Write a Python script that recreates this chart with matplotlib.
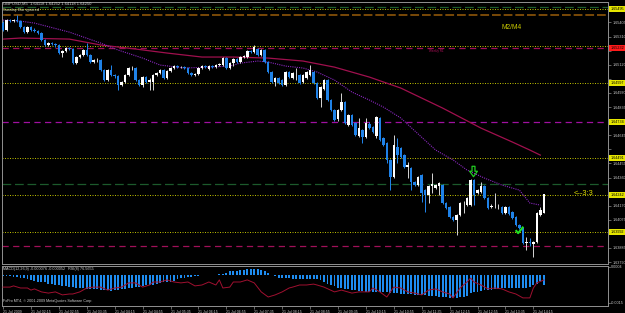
import numpy as np
import matplotlib
matplotlib.use("Agg")
import matplotlib.pyplot as plt
from matplotlib.path import Path
from matplotlib.transforms import blended_transform_factory as btf

# ---------------- data ----------------
title_text = "GBPUSD,M5  1.64118 1.64252 1.64118 1.64250"
subtitle_text = "Sunday Bar ignored"
macd_text = "MACD(12,26,9) -0.000076 -0.000052   RSI(8) 76.5655"
copyright_text = "FxPro MT4, \u00a9 2001-2009 MetaQuotes Software Corp."

opens = [
    1.65401, 1.65354, 1.65421, 1.65414, 1.65421, 1.65414, 1.65374, 1.65340, 1.65374, 1.65354,
    1.65347, 1.65334, 1.65286, 1.65253, 1.65266, 1.65259, 1.65253, 1.65199, 1.65212, 1.65232,
    1.65226, 1.65131, 1.65172, 1.65185, 1.65219, 1.65185, 1.65138, 1.65152, 1.65152, 1.65084,
    1.65017, 1.65084, 1.65051, 1.65044, 1.64983, 1.65003, 1.65051, 1.65098, 1.65098, 1.65017,
    1.64983, 1.65037, 1.65003, 1.65003, 1.65051, 1.65064, 1.65084, 1.65030, 1.65077, 1.65098,
    1.65111, 1.65104, 1.65104, 1.65098, 1.65064, 1.65051, 1.65057, 1.65098, 1.65111, 1.65091,
    1.65111, 1.65104, 1.65118, 1.65118, 1.65165, 1.65098, 1.65131, 1.65158, 1.65138, 1.65172,
    1.65172, 1.65212, 1.65206, 1.65226, 1.65185, 1.65219, 1.65138, 1.65071, 1.65003, 1.65030,
    1.65017, 1.64983, 1.65071, 1.65030, 1.65051, 1.65051, 1.65003, 1.65030, 1.65051, 1.65071,
    1.64997, 1.64895, 1.64956, 1.65017, 1.64882, 1.64815, 1.64754, 1.64815, 1.64869, 1.64714,
    1.64781, 1.64727, 1.64639, 1.64680, 1.64633, 1.64720, 1.64700, 1.64639, 1.64761, 1.64626,
    1.64592, 1.64478, 1.64363, 1.64565, 1.64558, 1.64511, 1.64430, 1.64424, 1.64329, 1.64309,
    1.64377, 1.64275, 1.64242, 1.64302, 1.64289, 1.64302, 1.64309, 1.64188, 1.64161, 1.64093,
    1.64073, 1.64107, 1.64188, 1.64174, 1.64174, 1.64343, 1.64255, 1.64262, 1.64302, 1.64221,
    1.64161, 1.64161, 1.64161, 1.64161, 1.64120, 1.64161, 1.64127, 1.64093, 1.64040, 1.64019,
    1.63918, 1.63925, 1.63911, 1.63925, 1.64107, 1.64118,
]
highs = [
    1.65414, 1.65428, 1.65428, 1.65428, 1.65455, 1.65421, 1.65381, 1.65381, 1.65381, 1.65367,
    1.65354, 1.65340, 1.65293, 1.65273, 1.65273, 1.65266, 1.65259, 1.65219, 1.65239, 1.65239,
    1.65232, 1.65179, 1.65192, 1.65226, 1.65266, 1.65192, 1.65158, 1.65165, 1.65158, 1.65091,
    1.65091, 1.65118, 1.65057, 1.65051, 1.65010, 1.65057, 1.65104, 1.65111, 1.65104, 1.65024,
    1.65044, 1.65044, 1.65030, 1.65057, 1.65071, 1.65091, 1.65091, 1.65084, 1.65104, 1.65118,
    1.65118, 1.65111, 1.65111, 1.65104, 1.65071, 1.65064, 1.65104, 1.65118, 1.65118, 1.65118,
    1.65118, 1.65125, 1.65131, 1.65172, 1.65172, 1.65138, 1.65165, 1.65165, 1.65179, 1.65185,
    1.65219, 1.65219, 1.65253, 1.65232, 1.65226, 1.65226, 1.65145, 1.65077, 1.65037, 1.65037,
    1.65024, 1.65077, 1.65077, 1.65071, 1.65098, 1.65057, 1.65057, 1.65077, 1.65118, 1.65077,
    1.65003, 1.64976, 1.65024, 1.65024, 1.64889, 1.64821, 1.64821, 1.64929, 1.64875, 1.64788,
    1.64788, 1.64734, 1.64761, 1.64687, 1.64761, 1.64734, 1.64707, 1.64774, 1.64767, 1.64633,
    1.64599, 1.64484, 1.64646, 1.64626, 1.64565, 1.64518, 1.64464, 1.64430, 1.64336, 1.64370,
    1.64383, 1.64282, 1.64309, 1.64390, 1.64316, 1.64329, 1.64316, 1.64195, 1.64168, 1.64100,
    1.64114, 1.64195, 1.64201, 1.64228, 1.64350, 1.64350, 1.64282, 1.64329, 1.64309, 1.64228,
    1.64181, 1.64255, 1.64181, 1.64168, 1.64168, 1.64168, 1.64134, 1.64100, 1.64046, 1.64026,
    1.63959, 1.63952, 1.63932, 1.64127, 1.64161, 1.64252,
]
lows = [
    1.65347, 1.65347, 1.65408, 1.65408, 1.65408, 1.65367, 1.65334, 1.65334, 1.65347, 1.65340,
    1.65327, 1.65280, 1.65246, 1.65246, 1.65253, 1.65239, 1.65192, 1.65172, 1.65206, 1.65219,
    1.65125, 1.65125, 1.65165, 1.65179, 1.65179, 1.65131, 1.65131, 1.65138, 1.65077, 1.65010,
    1.65010, 1.65044, 1.65030, 1.64949, 1.64976, 1.64997, 1.65044, 1.65084, 1.65010, 1.64976,
    1.64970, 1.64997, 1.64949, 1.64949, 1.65044, 1.65057, 1.65024, 1.65024, 1.65071, 1.65091,
    1.65098, 1.65098, 1.65091, 1.65057, 1.65044, 1.65044, 1.65051, 1.65091, 1.65098, 1.65084,
    1.65098, 1.65098, 1.65111, 1.65111, 1.65091, 1.65091, 1.65111, 1.65131, 1.65131, 1.65165,
    1.65165, 1.65199, 1.65199, 1.65179, 1.65179, 1.65131, 1.65064, 1.64997, 1.64976, 1.64990,
    1.64976, 1.64976, 1.65030, 1.65024, 1.65017, 1.64990, 1.64997, 1.65024, 1.65044, 1.64990,
    1.64889, 1.64835, 1.64949, 1.64875, 1.64808, 1.64740, 1.64740, 1.64808, 1.64720, 1.64707,
    1.64707, 1.64639, 1.64633, 1.64592, 1.64626, 1.64687, 1.64660, 1.64626, 1.64606, 1.64572,
    1.64457, 1.64275, 1.64356, 1.64457, 1.64491, 1.64424, 1.64356, 1.64275, 1.64302, 1.64302,
    1.64195, 1.64127, 1.64188, 1.64255, 1.64282, 1.64242, 1.64181, 1.64147, 1.64087, 1.64066,
    1.63972, 1.64100, 1.64120, 1.64168, 1.64168, 1.64174, 1.64248, 1.64255, 1.64215, 1.64147,
    1.64154, 1.64154, 1.64147, 1.64114, 1.64114, 1.64107, 1.64080, 1.64033, 1.64013, 1.63911,
    1.63871, 1.63898, 1.63824, 1.63918, 1.64100, 1.64118,
]
closes = [
    1.65354, 1.65421, 1.65414, 1.65421, 1.65414, 1.65374, 1.65340, 1.65374, 1.65354, 1.65347,
    1.65334, 1.65286, 1.65253, 1.65266, 1.65259, 1.65253, 1.65199, 1.65212, 1.65232, 1.65226,
    1.65131, 1.65172, 1.65185, 1.65219, 1.65185, 1.65138, 1.65152, 1.65152, 1.65084, 1.65017,
    1.65084, 1.65051, 1.65044, 1.64983, 1.65003, 1.65051, 1.65098, 1.65098, 1.65017, 1.64983,
    1.65037, 1.65003, 1.65017, 1.65051, 1.65064, 1.65084, 1.65030, 1.65077, 1.65098, 1.65111,
    1.65104, 1.65104, 1.65098, 1.65064, 1.65051, 1.65057, 1.65098, 1.65111, 1.65104, 1.65111,
    1.65104, 1.65118, 1.65125, 1.65165, 1.65098, 1.65131, 1.65158, 1.65138, 1.65172, 1.65179,
    1.65212, 1.65206, 1.65239, 1.65185, 1.65219, 1.65138, 1.65071, 1.65003, 1.65030, 1.64997,
    1.64983, 1.65071, 1.65037, 1.65064, 1.65051, 1.64997, 1.65051, 1.65071, 1.65084, 1.64997,
    1.64895, 1.64970, 1.65017, 1.64882, 1.64815, 1.64747, 1.64815, 1.64869, 1.64727, 1.64781,
    1.64714, 1.64646, 1.64693, 1.64633, 1.64727, 1.64693, 1.64666, 1.64767, 1.64612, 1.64579,
    1.64478, 1.64363, 1.64579, 1.64511, 1.64498, 1.64430, 1.64444, 1.64329, 1.64309, 1.64363,
    1.64255, 1.64242, 1.64302, 1.64316, 1.64309, 1.64323, 1.64188, 1.64154, 1.64093, 1.64073,
    1.64107, 1.64188, 1.64188, 1.64221, 1.64343, 1.64242, 1.64275, 1.64302, 1.64221, 1.64154,
    1.64168, 1.64161, 1.64161, 1.64120, 1.64161, 1.64114, 1.64087, 1.64040, 1.64019, 1.63918,
    1.63925, 1.63918, 1.63925, 1.64120, 1.64141, 1.64250,
]

# moving averages read at sample bars
ma_fast_bar = [0, 5, 9, 19, 28, 33, 40, 45, 52, 59, 65, 68, 73, 76, 81, 86, 90, 95, 100, 105,
               109, 114, 124, 129, 133, 138, 143, 148, 151, 154]
ma_fast = [1.65421, 1.65414, 1.65401, 1.65340, 1.65266, 1.65219, 1.65165, 1.65118, 1.65098, 1.65104,
           1.65111, 1.65131, 1.65145, 1.65138, 1.65111, 1.65098, 1.65071, 1.65017, 1.64936, 1.64882,
           1.64835, 1.64761, 1.64545, 1.64478, 1.64410, 1.64356, 1.64309, 1.64275, 1.64188, 1.64174]
ma_slow_bar = [0, 5, 19, 28, 38, 47, 57, 66, 76, 86, 95, 105, 114, 126, 137, 146, 151, 154]
ma_slow = [1.65293, 1.65300, 1.65293, 1.65253, 1.65226, 1.65199, 1.65172, 1.65172, 1.65165, 1.65145,
           1.65104, 1.65037, 1.64963, 1.64828, 1.64693, 1.64599, 1.64545, 1.64511]

# horizontal levels
level_prices = [1.65509, 1.65495, 1.65455, 1.65246, 1.65232, 1.64997, 1.64734,
                1.64491, 1.64316, 1.64242, 1.63992, 1.63898]
level_kinds = ["green", "yellow", "brown", "yellow", "crimson", "yellow", "magenta",
               "yellow", "green", "yellow", "yellow", "crimson"]
label_prices = [1.65495, 1.65232, 1.64997, 1.64734, 1.64491, 1.64242, 1.63992]
label_colors = ["#e6e600", "#ff1a1a", "#e6e600", "#e6e600", "#e6e600", "#e6e600", "#e6e600"]

price_ticks = [1.63790, 1.63885, 1.63980, 1.64075, 1.64170, 1.64265, 1.64360, 1.64455, 1.64550,
               1.64645, 1.64740, 1.64835, 1.64930, 1.65025, 1.65120, 1.65215, 1.65310, 1.65405]
price_tick_labels = ["1.63790", "1.63885", "", "1.64075", "1.64170", "", "1.64360", "1.64455",
                     "", "1.64645", "", "1.64835", "1.64930", "", "1.65120", "", "1.65310", "1.65405"]

time_bars = [0, 8, 16, 24, 32, 40, 48, 56, 64, 72, 80, 88, 96, 104, 112, 120, 128, 136, 144, 152]
time_labels = ["21 Jul 2009", "21 Jul 02:15", "21 Jul 02:55", "21 Jul 03:35", "21 Jul 04:15",
               "21 Jul 04:55", "21 Jul 05:35", "21 Jul 06:15", "21 Jul 06:55", "21 Jul 07:35",
               "21 Jul 08:15", "21 Jul 08:55", "21 Jul 09:35", "21 Jul 10:15", "21 Jul 10:55",
               "21 Jul 11:35", "21 Jul 12:15", "21 Jul 12:55", "21 Jul 13:35", "21 Jul 14:15"]

# MACD histogram (in units of 0.001)
macd_hist_milli = [
    -0.08, -0.08, -0.08, -0.11, -0.13, -0.16, -0.21, -0.26, -0.29, -0.32,
    -0.37, -0.40, -0.42, -0.48, -0.50, -0.53, -0.58, -0.61, -0.63, -0.66,
    -0.66, -0.69, -0.71, -0.71, -0.74, -0.77, -0.77, -0.79, -0.82, -0.82,
    -0.84, -0.87, -0.84, -0.82, -0.79, -0.77, -0.71, -0.69, -0.66, -0.66,
    -0.63, -0.58, -0.55, -0.53, -0.48, -0.45, -0.42, -0.40, -0.37, -0.32,
    -0.26, -0.21, -0.16, -0.13, -0.11, -0.08, -0.08, -0.05, -0.05, -0.03,
    -0.03, -0.01, 0.01, 0.03, 0.08, 0.16, 0.18, 0.21, 0.24, 0.26,
    0.29, 0.29, 0.29, 0.29, 0.24, 0.18, 0.08, -0.03, -0.08, -0.16,
    -0.18, -0.18, -0.21, -0.24, -0.24, -0.24, -0.24, -0.24, -0.24, -0.24,
    -0.26, -0.29, -0.37, -0.48, -0.55, -0.63, -0.69, -0.71, -0.77, -0.79,
    -0.82, -0.84, -0.87, -0.87, -0.90, -0.92, -0.92, -0.92, -0.92, -0.95,
    -0.95, -0.98, -0.98, -1.00, -1.03, -1.03, -1.03, -1.03, -1.06, -1.06,
    -1.08, -1.08, -1.11, -1.14, -1.16, -1.19, -1.19, -1.21, -1.24, -1.24,
    -1.24, -1.21, -1.19, -1.11, -1.00, -0.95, -0.90, -0.87, -0.84, -0.82,
    -0.82, -0.79, -0.74, -0.71, -0.71, -0.71, -0.71, -0.71, -0.71, -0.71,
    -0.69, -0.66, -0.58, -0.48, -0.32, -0.58,
]
macd_ticks = [0.0004, -0.0015]
macd_tick_labels = ["0.0004", "-0.0015"]

# RSI(8) read at sample bars
rsi_bar = [0, 2, 3, 5, 7, 8, 9, 11, 13, 15, 17, 19, 20, 22, 24, 26, 28, 30, 32, 34, 36, 38, 40, 42,
           43, 45, 47, 49, 51, 53, 55, 57, 59, 61, 62, 63, 65, 66, 68, 70, 72, 74, 76, 78, 80, 82,
           83, 85, 87, 89, 90, 92, 95, 97, 100, 102, 105, 106, 108, 110, 112, 114, 116, 118, 120,
           122, 124, 126, 128, 129, 131, 133, 134, 135, 137, 139, 141, 143, 145, 147, 149, 151,
           152, 153, 155]
rsi_val = [53, 53, 57, 50, 50, 43, 47, 37, 33, 37, 27, 30, 30, 37, 50, 53, 53, 43, 50, 53, 67, 67,
           53, 60, 70, 70, 77, 70, 67, 70, 57, 60, 70, 60, 77, 50, 53, 70, 70, 77, 67, 37, 20, 27,
           37, 50, 53, 60, 60, 63, 60, 53, 37, 43, 33, 37, 37, 50, 37, 20, 53, 50, 37, 33, 27, 43,
           47, 37, 30, 17, 50, 70, 83, 70, 60, 47, 50, 47, 37, 30, 17, 17, 50, 67, 76.6]

# chart annotations (text, bar, price, colour, size)
annotations = [("M2/M4", 142.8, 1.65374, "#c8c800", 4.8),
               ("<--3:3", 163.6, 1.64255, "#e0e000", 5.4),
               ("Weekly R1", 122.0, 1.65212, "#b0105a", 2.2)]
arrow_at = (134.8, 1.64403)
check_at = (147.8, 1.64006)

# ---------------- drawing ----------------
plt.rcParams['font.family'] = ['Liberation Sans', 'DejaVu Sans']
W, H = 625, 313
fig = plt.figure(figsize=(W / 100, H / 100), dpi=100, facecolor='black')

def fx(px):
    return px / W

XLIM = (-0.3, 173.4)
ax = fig.add_axes([fx(2), 1 - 264 / H, fx(606), 262 / H])
ax2 = fig.add_axes([fx(2), 1 - 306 / H, fx(606), 40 / H])
ax3 = ax2.twinx()
for a in (ax, ax2):
    a.set_facecolor('black')
    for s in a.spines.values():
        s.set_color('#8c8c8c')
        s.set_linewidth(0.72)

o = np.array(opens); h = np.array(highs); l = np.array(lows); c = np.array(closes)
idx = np.arange(len(c))
up = c >= o
bear_col = '#1f82e8'
ax.vlines(idx[up], l[up], h[up], color='#cfcfcf', lw=0.72, zorder=3)
ax.vlines(idx[~up], l[~up], h[~up], color=bear_col, lw=0.72, zorder=3)
body_lo = np.minimum(o, c)
body_h = np.maximum(np.abs(c - o), 0.00003)
ax.bar(idx[up], body_h[up], bottom=body_lo[up], width=0.72, color='white', edgecolor='none', zorder=4)
ax.bar(idx[~up], body_h[~up], bottom=body_lo[~up], width=0.72, color=bear_col, edgecolor='none', zorder=4)

ax.plot(ma_slow_bar, ma_slow, color='#a0104e', lw=0.9, zorder=2)
ax.plot(ma_fast_bar, ma_fast, color='#8a28c0', lw=0.8, ls=(0, (1, 1)), zorder=2)

styles = {
    "green": dict(color='#1c5a2c', lw=0.9, ls=(0, (7, 3))),
    "yellow": dict(color='#b8b800', lw=0.72, ls=(0, (1, 1.5))),
    "brown": dict(color='#7a4a08', lw=1.4, ls=(0, (4.5, 1.5))),
    "crimson": dict(color='#a01058', lw=0.9, ls=(0, (5, 3.5))),
    "magenta": dict(color='#a010a0', lw=0.9, ls=(0, (5, 3.5))),
}
for p, k in zip(level_prices, level_kinds):
    ax.axhline(p, zorder=1, **styles[k])

ax.set_xlim(*XLIM)
ax.set_ylim(1.63777, 1.65543)
ax.yaxis.tick_right()
ax.set_yticks(price_ticks)
ax.set_yticklabels(price_tick_labels)
ax.tick_params(axis='y', colors='#8c8c8c', labelcolor='#c8c8c8', labelsize=2.7,
               length=2, width=0.5, pad=1)
ax.tick_params(axis='x', bottom=False, labelbottom=False)

tr = btf(ax.transAxes, ax.transData)
for p, col in zip(label_prices, label_colors):
    ax.text(1.004, p, f"{p:.5f}", transform=tr, fontsize=2.7, color='black', va='center',
            ha='left', clip_on=False, zorder=6,
            bbox=dict(boxstyle='square,pad=0.25', fc=col, ec='none'))

for txt, xb, yp, col, fs in annotations:
    ax.text(xb, yp, txt, color=col, fontsize=fs, va='center', ha='left', zorder=6)

arrow_path = Path([(-0.28, 1.0), (0.28, 1.0), (0.28, 0.05), (0.75, 0.05), (0.0, -1.0),
                   (-0.75, 0.05), (-0.28, 0.05), (-0.28, 1.0)], closed=True)
ax.plot([arrow_at[0]], [arrow_at[1]], marker=arrow_path, markersize=7.5, markerfacecolor='none',
        markeredgecolor='#22cc22', markeredgewidth=0.9, zorder=6)
check_path = Path([(-1.0, 0.1), (-0.35, -0.7), (1.0, 1.0)],
                  [Path.MOVETO, Path.LINETO, Path.LINETO])
ax.plot([check_at[0]], [check_at[1]], marker=check_path, markersize=5.5, markerfacecolor='none',
        markeredgecolor='#22e022', markeredgewidth=1.5, zorder=7)

fig.text(fx(3), 1 - 4 / H, title_text, color='#d8d8d8', fontsize=3.0, va='center', ha='left')
fig.text(fx(3), 1 - 10 / H, subtitle_text, color='#d8d8b0', fontsize=3.0, va='center', ha='left')

# MACD / RSI sub-window
macd = np.array(macd_hist_milli) * 1e-3
ax2.bar(idx, macd, width=0.55, color='#1e8cf0', edgecolor='none', zorder=2)
ax2.set_xlim(*XLIM)
ax2.set_ylim(-0.001663, 0.000449)
ax2.set_xticks(time_bars)
ax2.set_xticklabels(time_labels)
for lab in ax2.get_xticklabels():
    lab.set_ha('left')
ax2.tick_params(axis='x', colors='#8c8c8c', labelcolor='#c8c8c8', labelsize=2.6,
                length=2, width=0.5, pad=0.8)
ax2.set_yticks([])

ax3.set_ylim(-10, 123.3)
ax3.set_xlim(*XLIM)
ax3.plot(rsi_bar, rsi_val, color='#a01030', lw=0.7, zorder=3)
for s in ax3.spines.values():
    s.set_visible(False)
ax3.set_yticks([])
tr2 = btf(ax2.transAxes, ax2.transData)
for v, txt in zip(macd_ticks, macd_tick_labels):
    ax2.text(1.004, v, txt, transform=tr2, fontsize=2.7, color='#c8c8c8', va='center',
             ha='left', clip_on=False)
    ax2.plot([1.0, 1.0035], [v, v], transform=tr2, color='#8c8c8c', lw=0.5, clip_on=False)

fig.text(fx(3), 1 - 269 / H, macd_text, color='#d0d0d0', fontsize=2.7, va='center', ha='left')
fig.text(fx(3), 1 - 301 / H, copyright_text, color='#d0d0d0', fontsize=2.7, va='center', ha='left')

fig.savefig("out.png", dpi=100, facecolor='black')
